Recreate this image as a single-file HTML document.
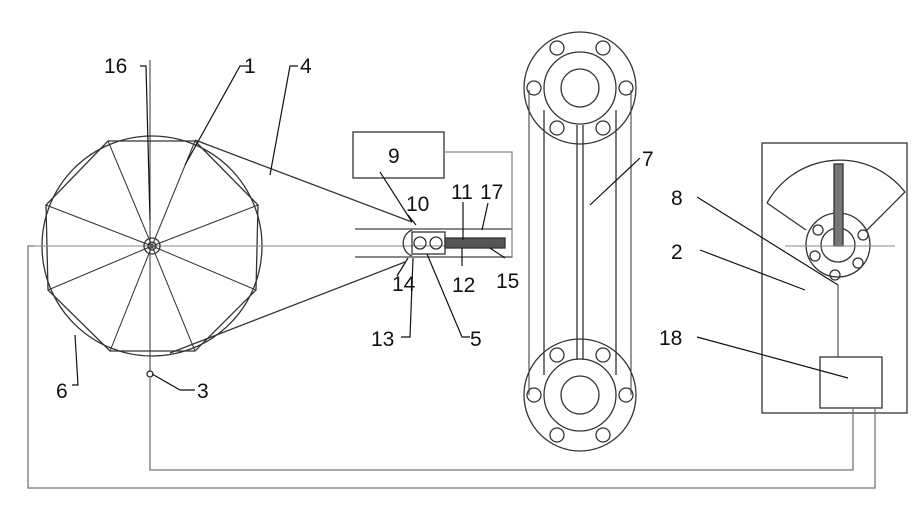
<!DOCTYPE html><html><head><style>body{margin:0;background:#fff}svg{display:block}text{font-family:"Liberation Sans",sans-serif;font-size:21px;fill:#111}</style></head><body>
<svg width="923" height="527" viewBox="0 0 923 527" xmlns="http://www.w3.org/2000/svg" fill="none" stroke="#333" stroke-width="1.3">
<circle cx="152" cy="246" r="110"/>
<polygon points="195,141 258,205 256,290 195,351 110,351 48,290 46,205 108,141"/>
<g stroke-width="1">
<line x1="152" y1="246" x2="195" y2="141"/><line x1="152" y1="246" x2="258" y2="205"/><line x1="152" y1="246" x2="256" y2="290"/><line x1="152" y1="246" x2="195" y2="351"/><line x1="152" y1="246" x2="110" y2="351"/><line x1="152" y1="246" x2="48" y2="290"/><line x1="152" y1="246" x2="46" y2="205"/><line x1="152" y1="246" x2="108" y2="141"/>
<line x1="150" y1="60" x2="150" y2="372"/>
<line x1="32" y1="246" x2="505" y2="246" stroke="#888"/>
</g>
<circle cx="152" cy="246" r="8"/><circle cx="152" cy="246" r="4"/>
<circle cx="150" cy="374" r="3"/>
<line x1="195" y1="140" x2="412" y2="222"/><line x1="170" y1="353" x2="405" y2="262"/>
<rect x="353" y="132" width="91" height="46"/>
<polyline points="444,152 512,152 512,258" stroke="#888"/>
<line x1="355" y1="229" x2="512" y2="229" stroke="#888" stroke-width="2"/>
<line x1="355" y1="257" x2="512" y2="257" stroke="#888" stroke-width="2"/>
<path d="M412,230 A14,14 0 0 0 412,256"/>
<rect x="412" y="232" width="33" height="22"/>
<circle cx="420" cy="243" r="6"/><circle cx="436" cy="243" r="6"/>
<rect x="445" y="238" width="60" height="10" fill="#555"/>
<g id="fl">
<circle cx="580" cy="88" r="56"/><circle cx="580" cy="88" r="36"/><circle cx="580" cy="88" r="19"/>
<circle cx="534" cy="88" r="7"/><circle cx="626" cy="88" r="7"/><circle cx="557" cy="48" r="7"/><circle cx="603" cy="48" r="7"/><circle cx="557" cy="128" r="7"/><circle cx="603" cy="128" r="7"/>
</g>
<use href="#fl" transform="translate(0,307)"/>
<line x1="544" y1="110" x2="544" y2="375"/><line x1="616" y1="110" x2="616" y2="375"/>
<line x1="577" y1="125" x2="577" y2="360"/><line x1="583" y1="125" x2="583" y2="360"/>
<line x1="529" y1="90" x2="529" y2="395" stroke-width="1"/><line x1="631" y1="90" x2="631" y2="395" stroke-width="1"/>
<rect x="762" y="143" width="145" height="270"/>
<path d="M767,203 A83,83 0 0 1 905,192 L866,231 M806,230 L767,203"/>
<circle cx="838" cy="245" r="32"/><circle cx="838" cy="245" r="17"/>
<circle cx="818" cy="230" r="5"/><circle cx="863" cy="235" r="5"/><circle cx="815" cy="256" r="5"/><circle cx="858" cy="263" r="5"/><circle cx="835" cy="275" r="5"/>
<rect x="834" y="164" width="9" height="82" fill="#777"/>
<line x1="785" y1="246" x2="895" y2="246" stroke="#888" stroke-width="1"/>
<line x1="838" y1="285" x2="838" y2="357" stroke-width="1"/>
<rect x="820" y="357" width="62" height="51"/>
<polyline points="853,408 853,470 150,470 150,378" stroke="#777"/>
<polyline points="875,408 875,488 28,488 28,246 35,246" stroke="#777"/>
<g stroke="#111" stroke-width="1.2">
<polyline points="140,66 146,66 150,220"/><polyline points="250,66 240,66 185,165"/><polyline points="298,66 290,66 270,175"/>
<line x1="380" y1="172" x2="412" y2="222"/><line x1="408" y1="215" x2="416" y2="225"/>
<line x1="463" y1="202" x2="463" y2="240"/><line x1="488" y1="203" x2="482" y2="230"/>
<line x1="462" y1="248" x2="462" y2="266"/><line x1="490" y1="248" x2="505" y2="258"/>
<line x1="408" y1="258" x2="397" y2="276"/><polyline points="401,337 410,337 413,258"/><polyline points="470,337 462,337 427,254"/>
<line x1="590" y1="205" x2="640" y2="158"/><line x1="697" y1="197" x2="838" y2="285"/><line x1="700" y1="250" x2="805" y2="290"/><line x1="697" y1="337" x2="848" y2="378"/>
<polyline points="72,385 78,385 75,335"/><polyline points="152,374 180,390 195,390"/>
</g>
<g stroke="none">
<text x="104" y="73">16</text><text x="244" y="73">1</text><text x="300" y="73">4</text>
<text x="388" y="163" font-size="22">9</text>
<text x="406" y="211">10</text><text x="451" y="199">11</text><text x="480" y="199">17</text>
<text x="392" y="291">14</text><text x="452" y="292">12</text><text x="496" y="288">15</text>
<text x="371" y="346">13</text><text x="470" y="346">5</text>
<text x="56" y="398">6</text><text x="197" y="398">3</text>
<text x="642" y="166">7</text><text x="671" y="205">8</text><text x="671" y="259">2</text><text x="659" y="345">18</text>
</g>
</svg></body></html>
